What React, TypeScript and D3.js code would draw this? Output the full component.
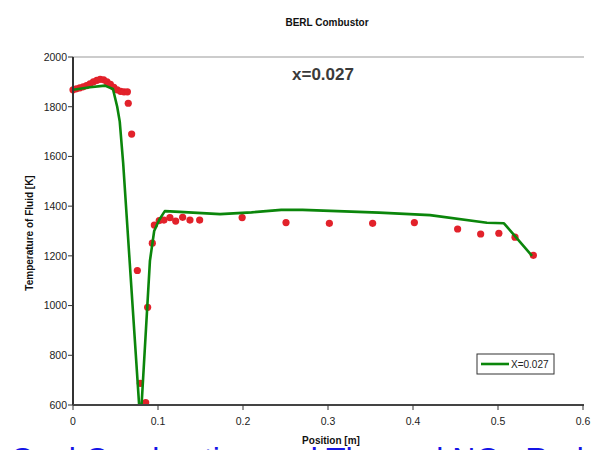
import React from "react";
import * as d3 from "d3";

const title = "BERL Combustor";
const annotation = "x=0.027";
const legendLabel = "X=0.027";
const xLabel = "Position [m]";
const yLabel = "Temperature of Fluid  [K]";
const footerText = "Coal Combustion and Thermal NOx Reduction of the hi";

const xTicks = [0, 0.1, 0.2, 0.3, 0.4, 0.5, 0.6];
const yTicks = [600, 800, 1000, 1200, 1400, 1600, 1800, 2000];

// model line (position [m], temperature [K])
const modelX = [0, 0.02, 0.0376, 0.047, 0.052, 0.055, 0.059, 0.078, 0.0805, 0.0905, 0.0955, 0.1015, 0.108, 0.12, 0.173, 0.21, 0.245, 0.27, 0.36, 0.42, 0.487, 0.507, 0.54];
const modelT = [1868, 1878, 1885, 1871, 1800, 1740, 1574, 590, 590, 1180, 1300, 1345, 1380, 1378, 1368, 1375, 1385, 1385, 1374, 1364, 1333, 1331, 1200];

// measured points
const measX = [0.000, 0.004, 0.008, 0.012, 0.016, 0.020, 0.024, 0.028, 0.032, 0.036, 0.040, 0.044, 0.048, 0.052, 0.056, 0.060, 0.064, 0.065, 0.069, 0.0757, 0.0792, 0.0855, 0.0878, 0.0933, 0.0957, 0.1015, 0.107, 0.114, 0.1208, 0.129, 0.1376, 0.149, 0.199, 0.2506, 0.3016, 0.3525, 0.4016, 0.4525, 0.4796, 0.501, 0.52, 0.5416];
const measT = [1868, 1872, 1876, 1880, 1885, 1892, 1900, 1906, 1910, 1908, 1900, 1890, 1878, 1868, 1862, 1860, 1860, 1814, 1690, 1141, 687, 610, 993, 1251, 1324, 1342, 1344, 1354, 1340, 1355, 1344, 1344, 1354, 1334, 1331, 1331, 1334, 1308, 1288, 1291, 1275, 1202];

const W = 597;
const H = 450;
const left = 73, right = 583, top = 57, bottom = 405;
const FONT = "Arial, 'Liberation Sans', sans-serif";

export default function App() {
  const x = d3.scaleLinear().domain([0, 0.6]).range([left, right]);
  const y = d3.scaleLinear().domain([600, 2000]).range([bottom, top]);
  const line = d3
    .line<number>()
    .x((_, i) => x(modelX[i]))
    .y((d) => y(d))
    .curve(d3.curveLinear);
  const pathD = line(modelT) || "";
  const fmtX = (v: number) => (v === 0 ? "0" : d3.format(".1f")(v));

  return (
    <div style={{ position: "fixed", left: 0, top: 0, width: W, height: H, background: "#fff", overflow: "hidden" }}>
      <svg width={W} height={H} style={{ display: "block", fontFamily: FONT }}>
        <defs>
          <clipPath id="plotClip">
            <rect x={left} y={top} width={right - left} height={bottom - top} />
          </clipPath>
          <filter id="soft" x="-50%" y="-50%" width="200%" height="200%">
            <feGaussianBlur stdDeviation="0.6" />
          </filter>
        </defs>
        <rect x={0} y={0} width={W} height={H} fill="#fff" />

        {/* cropped footer text */}
        <text x={10} y={470} fontSize={32} fill="#1414e6">
          {footerText}
        </text>

        {/* title */}
        <text x={327} y={26} textAnchor="middle" fontSize={10} fontWeight="bold" fill="#111">
          {title}
        </text>

        {/* top border */}
        <line x1={left} x2={right + 1} y1={top} y2={top} stroke="#999" strokeWidth={1} />

        {/* annotation */}
        <text x={323} y={80} textAnchor="middle" fontSize={17} fontWeight="bold" fill="#3a3a3a">
          {annotation}
        </text>

        {/* measured points */}
        <g filter="url(#soft)">
          {measT.map((t, i) => (
            <circle key={i} cx={x(measX[i])} cy={y(t)} r={3.6} fill="#e2202c" />
          ))}
        </g>

        {/* model line */}
        <path d={pathD} fill="none" stroke="#0b860b" strokeWidth={2.6} strokeLinejoin="round" clipPath="url(#plotClip)" />

        {/* axes */}
        <line x1={left} x2={left} y1={top} y2={bottom} stroke="#333" strokeWidth={2} />
        <line x1={left} x2={right + 1} y1={bottom} y2={bottom} stroke="#444" strokeWidth={2} />
        {yTicks.map((t) => (
          <g key={t}>
            <line x1={left - 5} x2={left} y1={y(t)} y2={y(t)} stroke="#333" strokeWidth={1} />
            <text x={left - 6} y={y(t) + 3.8} textAnchor="end" fontSize={10.5} fill="#222">
              {t}
            </text>
          </g>
        ))}
        {xTicks.map((t) => (
          <g key={t}>
            <line x1={x(t)} x2={x(t)} y1={bottom} y2={bottom + 5} stroke="#333" strokeWidth={1} />
            <text x={x(t)} y={bottom + 20} textAnchor="middle" fontSize={10.5} fill="#222">
              {fmtX(t)}
            </text>
          </g>
        ))}

        {/* axis labels */}
        <text x={331} y={444} textAnchor="middle" fontSize={10} fontWeight="bold" fill="#111">
          {xLabel}
        </text>
        <text
          transform={`translate(33, ${233}) rotate(-90)`}
          textAnchor="middle"
          fontSize={10}
          fontWeight="bold"
          fill="#111"
        >
          {yLabel}
        </text>

        {/* legend */}
        <rect x={477} y={354} width={77} height={20} fill="#fff" stroke="#333" strokeWidth={1} />
        <line x1={481} x2={509} y1={364} y2={364} stroke="#0b860b" strokeWidth={2.6} />
        <text x={511} y={368} fontSize={10} fill="#222">
          {legendLabel}
        </text>
      </svg>
    </div>
  );
}
